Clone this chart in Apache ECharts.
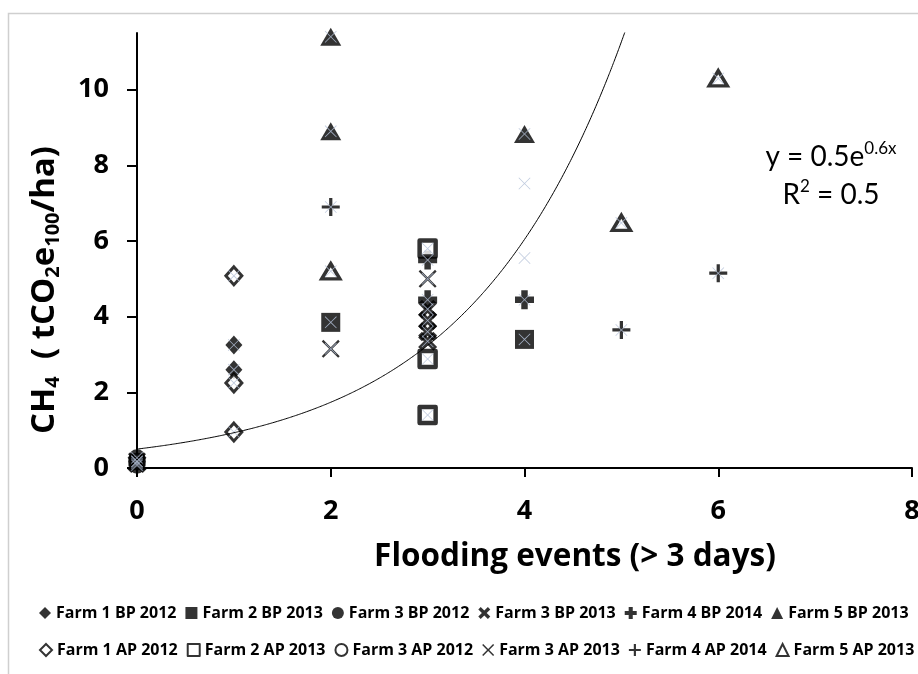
<!DOCTYPE html>
<html>
<head>
<meta charset="utf-8">
<title>CH4 vs flooding events</title>
<script src="https://cdn.jsdelivr.net/npm/echarts@6/dist/echarts.min.js"></script>
<style>
  html, body { margin: 0; padding: 0; background: #fff; }
  #chart { width: 918px; height: 674px; }
</style>
</head>
<body>
<div id="chart"></div>
<script>
// Flooding events (> 3 days) vs CH4 emissions, by farm and period
const xTicks = [0, 2, 4, 6, 8];
const yTicks = [0, 2, 4, 6, 8, 10];

const farm1BP2012 = [[1, 3.25], [1, 2.6]];
const farm2BP2013 = [[2, 3.85], [4, 3.4]];
const farm3BP2012 = [[0, 0.27], [0, 0.07]];
const farm3BP2013 = [[3, 4.2], [3, 3.9], [3, 3.6], [3, 3.35], [0, 0.12]];
const farm4BP2014 = [[3, 5.5], [3, 4.45], [4, 4.45]];
const farm5BP2013 = [[2, 11.4], [2, 8.9], [4, 8.83]];
const farm1AP2012 = [[1, 5.08], [1, 2.25], [1, 0.95]];
const farm2AP2013 = [[3, 5.8], [3, 2.88], [3, 1.4]];
const farm3AP2012 = [[0, 0.17]];
const farm3AP2013 = [[2, 3.15], [3, 5.0], [0, 0.17]];
const farm4AP2014 = [[2, 6.9], [5, 3.65], [6, 5.15]];
const farm5AP2013 = [[2, 5.2], [5, 6.48], [6, 10.3]];
// points that appear only in the pooled series used for the trend line
const pooledOnly = [[4, 7.52], [4, 5.55]];

// exponential trend line y = a·e^(b·x) fitted on the pooled series
const trendA = 0.5;
const trendB = 0.623;
const trendLabel = ['y = 0.5e{sup|0.6x}', 'R{sup|2} = 0.5'];

const BOLD_FONT = '"Open Sans", Lato, "Liberation Sans", sans-serif';
const FONT = 'Lato, "Open Sans", "Liberation Sans", sans-serif';

const SYM = {
  boldX: 'path://M2,0 L5,3 L8,0 L10,2 L7,5 L10,8 L8,10 L5,7 L2,10 L0,8 L3,5 L0,2 Z',
  boldPlus: 'path://M3.3,0 H6.7 V3.3 H10 V6.7 H6.7 V10 H3.3 V6.7 H0 V3.3 H3.3 Z',
  thinX: 'path://M0,0.9 L0.9,0 L5,4.1 L9.1,0 L10,0.9 L5.9,5 L10,9.1 L9.1,10 L5,5.9 L0.9,10 L0,9.1 L4.1,5 Z',
  thinPlus: 'path://M4.1,0 H5.9 V4.1 H10 V5.9 H5.9 V10 H4.1 V5.9 H0 V4.1 H4.1 Z',
  paleX: 'path://M0,0.45 L0.45,0 L5,4.55 L9.55,0 L10,0.45 L5.45,5 L10,9.55 L9.55,10 L5,5.45 L0.45,10 L0,9.55 L4.55,5 Z'
};

const filled = { color: '#000' };
const open = { color: '#fff', borderColor: '#000', borderWidth: 3 };
const openThick = { color: '#fff', borderColor: '#000', borderWidth: 4.5, borderJoin: 'round' };

const seriesDefs = [
  { name: 'Farm 1 BP 2012', data: farm1BP2012, symbol: 'diamond', size: [17, 19], style: filled },
  { name: 'Farm 2 BP 2013', data: farm2BP2013, symbol: 'rect', size: 19, style: filled },
  { name: 'Farm 3 BP 2012', data: farm3BP2012, symbol: 'circle', size: 17, style: filled },
  { name: 'Farm 3 BP 2013', data: farm3BP2013, symbol: SYM.boldX, size: 19, style: filled },
  { name: 'Farm 4 BP 2014', data: farm4BP2014, symbol: SYM.boldPlus, size: 19, style: filled },
  { name: 'Farm 5 BP 2013', data: farm5BP2013, symbol: 'triangle', size: [21, 18], style: filled },
  { name: 'Farm 1 AP 2012', data: farm1AP2012, symbol: 'diamond', size: [16, 18], style: open },
  { name: 'Farm 2 AP 2013', data: farm2AP2013, symbol: 'rect', size: 16, style: openThick },
  { name: 'Farm 3 AP 2012', data: farm3AP2012, symbol: 'circle', size: 15, style: open, z: 2 },
  { name: 'Farm 3 AP 2013', data: farm3AP2013, symbol: SYM.thinX, size: 18, style: filled },
  { name: 'Farm 4 AP 2014', data: farm4AP2014, symbol: SYM.thinPlus, size: 18, style: filled },
  { name: 'Farm 5 AP 2013', data: farm5AP2013, symbol: 'triangle', size: [18, 15], style: Object.assign({}, open, { borderWidth: 3.5 }) }
];

const scatterSeries = seriesDefs.map(d => ({
  name: d.name,
  type: 'scatter',
  data: d.data,
  symbol: d.symbol,
  symbolSize: d.size,
  itemStyle: Object.assign({}, d.style),
  emphasis: { disabled: true },
  z: d.z || 3
}));

const pooled = seriesDefs.reduce((acc, d) => acc.concat(d.data), []).concat(pooledOnly);

const trendXs = [];
for (let x = 0; x <= 5.3; x += 0.05) trendXs.push(+x.toFixed(2));
const trendData = trendXs.map(x => [x, trendA * Math.exp(trendB * x)]);

const legendNames = seriesDefs.map(d => d.name);

const legendText = { color: '#000', fontSize: 16, fontWeight: 'bold', fontFamily: BOLD_FONT };

const chart = echarts.init(document.getElementById('chart'), null, { renderer: 'canvas' });

chart.setOption({
  backgroundColor: '#fff',
  animation: false,
  textStyle: { fontFamily: FONT },
  grid: { left: 137, right: 6, top: 33, bottom: 206, containLabel: false, outerBoundsMode: 'none' },
  xAxis: {
    type: 'value',
    min: 0, max: 8, interval: 2,
    axisLine: { lineStyle: { color: '#000', width: 2 } },
    axisTick: { show: true, length: 9, lineStyle: { color: '#000', width: 2 }, customValues: xTicks },
    axisLabel: {
      customValues: xTicks, margin: 30, color: '#000', fontSize: 27, fontWeight: 'bold',
      fontFamily: BOLD_FONT, alignMaxLabel: 'center', alignMinLabel: 'center'
    },
    splitLine: { show: false }
  },
  yAxis: {
    type: 'value',
    min: 0, max: 11.5, interval: 2,
    axisLine: { show: true, lineStyle: { color: '#000', width: 2 } },
    axisTick: { show: true, length: 10, lineStyle: { color: '#000', width: 2 }, customValues: yTicks },
    axisLabel: { customValues: yTicks, margin: 28, color: '#000', fontSize: 27, fontWeight: 'bold', fontFamily: BOLD_FONT },
    splitLine: { show: false }
  },
  legend: [
    {
      data: legendNames.slice(0, 6),
      left: 34, top: 600, width: 900, orient: 'horizontal',
      itemWidth: 12, itemHeight: 12, itemGap: 9,
      textStyle: legendText,
      selectedMode: false
    },
    {
      data: legendNames.slice(6),
      left: 34, top: 637, width: 900, orient: 'horizontal',
      itemWidth: 12, itemHeight: 12, itemGap: 9,
      textStyle: legendText,
      selectedMode: false
    }
  ],
  graphic: [
    {
      type: 'rect', silent: true, z: -10,
      shape: { x: 8.5, y: 13.5, width: 940, height: 700 },
      style: { fill: 'none', stroke: '#cfcfcf', lineWidth: 1.5 }
    },
    {
      type: 'text', silent: true,
      x: 45, y: 290, rotation: Math.PI / 2,
      style: {
        text: 'CH{sub|4}  ( tCO{sub|2}e{sub|100}/ha)',
        align: 'center', verticalAlign: 'middle',
        fontFamily: BOLD_FONT, fontSize: 33, fontWeight: 'bold', fill: '#000',
        rich: {
          sub: { fontFamily: BOLD_FONT, fontSize: 20, fontWeight: 'bold', fill: '#000', padding: [16, 0, 0, 0] }
        }
      }
    },
    {
      type: 'text', silent: true,
      x: 575, y: 557,
      style: {
        text: 'Flooding events (> 3 days)',
        align: 'center', verticalAlign: 'middle',
        fontFamily: BOLD_FONT, fontSize: 31.5, fontWeight: 'bold', fill: '#000'
      }
    },
    {
      type: 'text', silent: true,
      x: 831, y: 176,
      style: {
        text: trendLabel.join('\n'),
        align: 'center', verticalAlign: 'middle',
        fontFamily: FONT, fontSize: 28, fill: '#000', lineHeight: 38,
        rich: {
          sup: { fontFamily: FONT, fontSize: 17, fill: '#000', padding: [0, 0, 17, 0] }
        }
      }
    }
  ],
  series: scatterSeries.concat([
    {
      name: 'pooled',
      type: 'scatter',
      data: pooled,
      symbol: SYM.paleX,
      symbolSize: 12,
      itemStyle: { color: '#b4c1d8', opacity: 0.85 },
      silent: true,
      z: 4
    },
    {
      name: 'trend',
      type: 'line',
      data: trendData,
      showSymbol: false,
      smooth: true,
      clip: true,
      lineStyle: { color: '#000', width: 1 },
      silent: true,
      z: 5
    }
  ])
});
</script>
</body>
</html>
